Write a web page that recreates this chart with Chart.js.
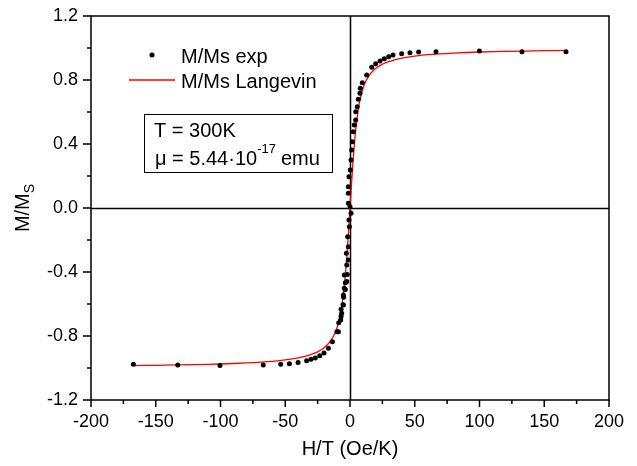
<!DOCTYPE html>
<html>
<head>
<meta charset="utf-8">
<script src="https://cdn.jsdelivr.net/npm/chart.js@4/dist/chart.umd.min.js"></script>
<style>
  html, body { margin: 0; padding: 0; background: #fff; }
  canvas { display: block; }
</style>
</head>
<body>
<canvas id="chart" width="637" height="466"></canvas>
<script>
const expH = [-167.3, -133, -100.4, -67, -53.5, -46.8, -40.1, -33.5, -30.1, -26.8, -23.4, -20.1,
  -16.7, -13.6, -10.0, -9.0, -8.7, -7.2, -6.9, -6.4, -6.9, -5.1, -5.4, -4.9, -5.1, -4.4, -3.6,
  -2.5, -3.6, -4.4, -2.1, -2.5, -1.3, -2.8, -1.3, -1.8, -0.5, -0.8, 0.8, 0.0,
  -1.3, -1.3, -1.3, -0.8, 0.2, 0.8, 1.3, 1.8, 2.5, 3.3, 4.4, 4.4, 5.6, 6.4, 7.7, 8.0, 9.5,
  12.9, 16.8, 19.8, 23.2, 26.5, 29.9, 33.2, 39.9, 46.3, 53.0, 66.4, 99.9, 132.8, 166.8];
const expM = [-0.977, -0.981, -0.985, -0.981, -0.977, -0.973, -0.965, -0.954, -0.946, -0.938, -0.923, -0.906,
  -0.877, -0.836, -0.773, -0.773, -0.717, -0.700, -0.677, -0.658, -0.633, -0.606, -0.604, -0.558, -0.544, -0.502, -0.510,
  -0.460, -0.467, -0.419, -0.415, -0.356, -0.325, -0.283, -0.242, -0.179, -0.117, -0.075, -0.033, 0.008,
  0.030, 0.092, 0.133, 0.196, 0.238, 0.300, 0.363, 0.414, 0.477, 0.519, 0.550, 0.602, 0.633, 0.679, 0.717, 0.748, 0.783,
  0.831, 0.880, 0.902, 0.919, 0.933, 0.946, 0.956, 0.964, 0.971, 0.975, 0.977, 0.981, 0.977, 0.977];

// Langevin fit curve
const fitH = [-167, -150, -120, -100, -80, -60, -50, -40, -35, -30, -25, -20, -17.5, -15, -12, -10, -9, -8, -7, -6, -5, -4, -3, -2, -1,
  0, 1, 2, 3, 4, 5, 6, 7, 8, 9, 10, 12, 15, 17.5, 20, 25, 30, 35, 40, 50, 60, 80, 100, 120, 150, 167];
const fitM = [-0.985, -0.983, -0.979, -0.975, -0.968, -0.958, -0.949, -0.937, -0.928, -0.915, -0.899, -0.873, -0.855, -0.831, -0.789, -0.747, -0.720, -0.686, -0.646, -0.595, -0.532, -0.455, -0.362, -0.252, -0.130,
  0, 0.130, 0.252, 0.362, 0.455, 0.532, 0.595, 0.646, 0.686, 0.720, 0.747, 0.789, 0.831, 0.855, 0.873, 0.899, 0.915, 0.928, 0.937, 0.949, 0.958, 0.968, 0.975, 0.979, 0.983, 0.985];

const xTicks = [-200, -150, -100, -50, 0, 50, 100, 150, 200];
const xMinor = [-175, -125, -75, -25, 25, 75, 125, 175];
const yTicks = [-1.2, -0.8, -0.4, 0.0, 0.4, 0.8, 1.2];
const yMinor = [-1.0, -0.6, -0.2, 0.2, 0.6, 1.0];

const FONT = '"Liberation Sans", Arial, sans-serif';

// no extra padding from label overflow, so the plot box lands where the original is
function fixScale(s, w, h) {
  if (w) s.width = w;
  if (h) s.height = h;
  s.paddingTop = s.paddingBottom = s.paddingLeft = s.paddingRight = 0;
}

// frame, zero lines, ticks, titles, legend and text box
const decor = {
  id: 'decor',
  beforeDatasetsDraw(chart) {
    const { ctx, chartArea: a, scales: { x, y } } = chart;
    ctx.save();
    ctx.strokeStyle = '#000';
    ctx.lineWidth = 1.5;
    const x0 = Math.round(x.getPixelForValue(0)) + 0.5;
    const y0 = Math.round(y.getPixelForValue(0)) + 0.5;
    ctx.beginPath();
    ctx.moveTo(a.left, y0); ctx.lineTo(a.right, y0);
    ctx.moveTo(x0, a.top); ctx.lineTo(x0, a.bottom);
    ctx.stroke();
    ctx.restore();
  },
  afterDraw(chart) {
    const { ctx, chartArea: a, scales: { x, y } } = chart;
    ctx.save();
    ctx.strokeStyle = '#000';
    ctx.lineWidth = 1.5;
    ctx.strokeRect(a.left, a.top, a.right - a.left, a.bottom - a.top);

    ctx.beginPath();
    xTicks.forEach(v => { const p = x.getPixelForValue(v); ctx.moveTo(p, a.bottom); ctx.lineTo(p, a.bottom + 7); });
    xMinor.forEach(v => { const p = x.getPixelForValue(v); ctx.moveTo(p, a.bottom); ctx.lineTo(p, a.bottom + 4); });
    yTicks.forEach(v => { const p = y.getPixelForValue(v); ctx.moveTo(a.left, p); ctx.lineTo(a.left - 8, p); });
    yMinor.forEach(v => { const p = y.getPixelForValue(v); ctx.moveTo(a.left, p); ctx.lineTo(a.left - 4, p); });
    ctx.stroke();

    ctx.fillStyle = '#000';
    // x title
    ctx.font = '20px ' + FONT;
    ctx.textAlign = 'center';
    ctx.textBaseline = 'alphabetic';
    ctx.fillText('H/T (Oe/K)', (a.left + a.right) / 2, 455);

    // y title with subscript
    ctx.save();
    ctx.translate(29, (a.top + a.bottom) / 2);
    ctx.rotate(-Math.PI / 2);
    ctx.textAlign = 'left';
    const wM = ctx.measureText('M/M').width;
    ctx.font = '14px ' + FONT;
    const wS = ctx.measureText('S').width;
    const start = -(wM + wS) / 2;
    ctx.font = '20px ' + FONT;
    ctx.fillText('M/M', start, 0);
    ctx.font = '14px ' + FONT;
    ctx.fillText('S', start + wM, 5);
    ctx.restore();

    // legend
    ctx.textAlign = 'left';
    ctx.font = '20px ' + FONT;
    ctx.beginPath();
    ctx.arc(152, 55, 2.5, 0, Math.PI * 2);
    ctx.fill();
    ctx.fillText('M/Ms exp', 181, 63);
    ctx.strokeStyle = '#ff0000';
    ctx.lineWidth = 1.3;
    ctx.beginPath();
    ctx.moveTo(129, 80); ctx.lineTo(175, 80);
    ctx.stroke();
    ctx.fillText('M/Ms Langevin', 181, 88);

    // text box
    ctx.strokeStyle = '#000';
    ctx.lineWidth = 1;
    ctx.strokeRect(144.5, 114.5, 188, 58);
    ctx.fillText('T = 300K', 154, 137);
    let cx = 155;
    const part1 = '\u03bc = 5.44\u00b710';
    ctx.fillText(part1, cx, 165);
    cx += ctx.measureText(part1).width;
    ctx.font = '13px ' + FONT;
    ctx.fillText('-17', cx, 153);
    cx += ctx.measureText('-17').width + 5;
    ctx.font = '20px ' + FONT;
    ctx.fillText('emu', cx, 165);
    ctx.restore();
  }
};

new Chart(document.getElementById('chart'), {
  type: 'scatter',
  data: {
    datasets: [
      {
        label: 'M/Ms exp',
        data: expH.map((h, i) => ({ x: h, y: expM[i] })),
        pointRadius: 2.5,
        pointBackgroundColor: '#000',
        pointBorderWidth: 0,
        showLine: false
      },
      {
        label: 'M/Ms Langevin',
        data: fitH.map((h, i) => ({ x: h, y: fitM[i] })),
        showLine: true,
        borderColor: '#ff0000',
        borderWidth: 1.3,
        pointRadius: 0,
        tension: 0.2
      }
    ]
  },
  plugins: [decor],
  options: {
    responsive: false,
    devicePixelRatio: 1,
    animation: false,
    layout: { padding: { top: 16, right: 28, left: 0, bottom: 0 } },
    plugins: { legend: { display: false }, tooltip: { enabled: false } },
    scales: {
      x: {
        type: 'linear',
        min: -200, max: 200,
        afterFit: s => fixScale(s, 0, 66),
        afterBuildTicks: s => { s.ticks = xTicks.map(v => ({ value: v })); },
        grid: { display: false, drawTicks: false },
        border: { display: false },
        ticks: {
          padding: 11,
          color: '#000',
          font: { family: FONT, size: 18 },
          callback: v => String(v),
          maxRotation: 0, autoSkip: false
        }
      },
      y: {
        type: 'linear',
        min: -1.2, max: 1.2,
        afterFit: s => fixScale(s, 91, 0),
        afterBuildTicks: s => { s.ticks = yTicks.map(v => ({ value: v })); },
        grid: { display: false, drawTicks: false },
        border: { display: false },
        ticks: {
          padding: 13,
          color: '#000',
          font: { family: FONT, size: 18 },
          callback: v => v.toFixed(1)
        }
      }
    }
  }
});
</script>
</body>
</html>
